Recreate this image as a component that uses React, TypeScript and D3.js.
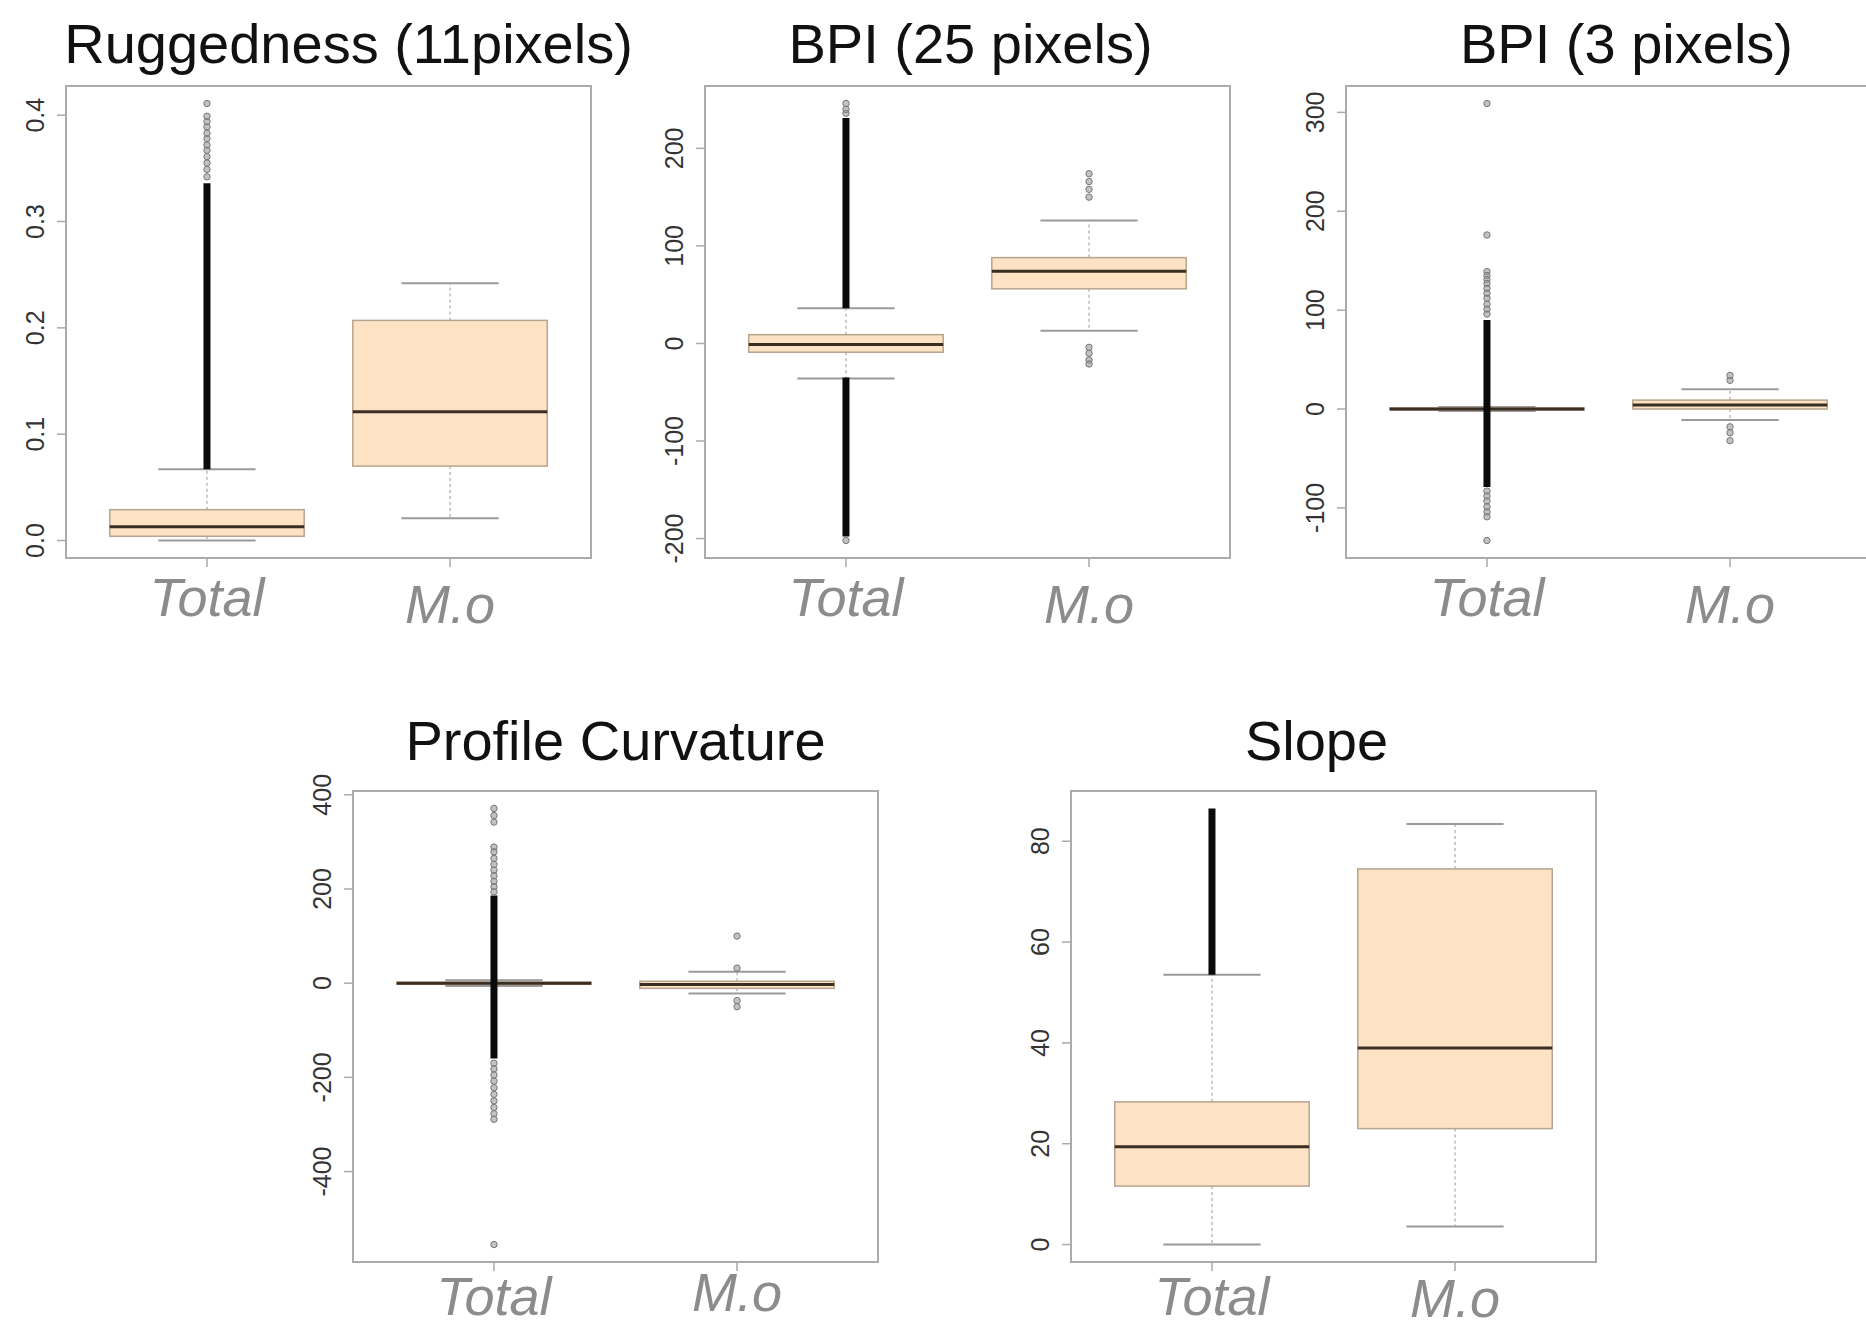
import React from 'react';
import * as d3 from 'd3';

// groups on every panel
const groups = ['Total', 'M.o'];

// stats per group: [lower whisker, Q1, median, Q3, upper whisker]
// dense: ranges where the outliers overlap into a solid column; points: single outliers

// Ruggedness (11pixels)
const ruggedStats = [[0, 0.004, 0.013, 0.029, 0.067], [0.021, 0.07, 0.121, 0.207, 0.242]];
const ruggedDense = [[[0.067, 0.336]], []];
const ruggedPoints = [[0.342, 0.349, 0.355, 0.361, 0.367, 0.372, 0.378, 0.383, 0.389, 0.394, 0.399, 0.411], []];
const ruggedTicks = [0, 0.1, 0.2, 0.3, 0.4];

// BPI (25 pixels)
const bpi25Stats = [[-36, -9, -1, 9, 36], [13, 56, 74, 88, 126]];
const bpi25Dense = [[[36, 231], [-198, -35]], []];
const bpi25Points = [[236, 240, 246, -202], [150, 158, 166, 174, -4, -10, -17, -21]];
const bpi25Ticks = [-200, -100, 0, 100, 200];

// BPI (3 pixels)
const bpi3Stats = [[-2, -1, 0, 1, 2], [-11, 0, 4, 9, 20]];
const bpi3Dense = [[[-79, 90]], []];
const bpi3Points = [
  [309, 176, 139, 135, 131, 127, 122, 117, 112, 106, 101, 96, -83, -88, -93, -99, -104, -109, -133],
  [29, 34, -18, -24, -32],
];
const bpi3Ticks = [-100, 0, 100, 200, 300];

// Profile Curvature
const profStats = [[-6, -2, 0, 2, 6], [-22, -11, -3, 4, 24]];
const profDense = [[[-160, 186]], []];
const profPoints = [
  [371, 356, 342, 289, 279, 265, 252, 240, 228, 216, 205, 194, -170, -182, -195, -208, -222, -236, -250, -264, -277, -289, -555],
  [100, 32, -37, -50],
];
const profTicks = [-400, -200, 0, 200, 400];

// Slope
const slopeStats = [[0, 11.6, 19.4, 28.3, 53.5], [3.6, 23, 39, 74.5, 83.4]];
const slopeDense = [[[53.5, 86.5]], []];
const slopePoints = [[], []];
const slopeTicks = [0, 20, 40, 60, 80];

const W = 1866;
const H = 1333;
const PW = 525;

const fmt1 = d3.format('.1f');
const fmtInt = (v: number) => String(v);

const panels = [
  { title: 'Ruggedness (11pixels)', left: 66, top: 86, height: 472, titleDy: -23, titleDx: 20, labelDy: [58, 65], stats: ruggedStats, dense: ruggedDense, points: ruggedPoints, ticks: ruggedTicks, fmt: fmt1 },
  { title: 'BPI (25 pixels)', left: 705, top: 86, height: 472, titleDy: -23, titleDx: 3, labelDy: [58, 65], stats: bpi25Stats, dense: bpi25Dense, points: bpi25Points, ticks: bpi25Ticks, fmt: fmtInt },
  { title: 'BPI (3 pixels)', left: 1346, top: 86, height: 472, titleDy: -23, titleDx: 18, labelDy: [58, 65], stats: bpi3Stats, dense: bpi3Dense, points: bpi3Points, ticks: bpi3Ticks, fmt: fmtInt },
  { title: 'Profile Curvature', left: 353, top: 791, height: 471, titleDy: -31, titleDx: 0, labelDy: [53, 49], stats: profStats, dense: profDense, points: profPoints, ticks: profTicks, fmt: fmtInt },
  { title: 'Slope', left: 1071, top: 791, height: 471, titleDy: -31, titleDx: -17, labelDy: [53, 55], stats: slopeStats, dense: slopeDense, points: slopePoints, ticks: slopeTicks, fmt: fmtInt },
];

const FONT = 'Liberation Sans, Arial, Helvetica, sans-serif';
const BOX_FILL = '#fde2c4';
const BOX_LINE = '#b7a48e';
const FRAME = '#ababab';

function BoxPanel({ p }: { p: (typeof panels)[number] }) {
  const { left, top, height } = p;
  const bottom = top + height;
  const right = left + PW;

  // R style: data range padded by 4% on each side
  const all = [...p.stats.flat(), ...p.dense.flat(2), ...p.points.flat()] as number[];
  const [lo, hi] = d3.extent(all) as [number, number];
  const pad = (hi - lo) * 0.04;
  const y = d3.scaleLinear().domain([lo - pad, hi + pad]).range([bottom, top]);
  const x = d3.scalePoint<string>().domain(groups).range([left, right]).padding(0.58);
  const half = x.step() * 0.4;
  const staple = half * 0.5;

  return (
    <g>
      <text
        x={(left + right) / 2 + p.titleDx}
        y={top + p.titleDy}
        textAnchor="middle"
        fontFamily={FONT}
        fontSize={56}
        fill="#111"
      >
        {p.title}
      </text>

      {/* y ticks */}
      {p.ticks.map((t) => (
        <g key={t}>
          <line x1={left - 9} x2={left} y1={y(t)} y2={y(t)} stroke={FRAME} strokeWidth={1.5} />
          <text
            transform={`translate(${left - 22},${y(t)}) rotate(-90)`}
            textAnchor="middle"
            fontFamily={FONT}
            fontSize={25}
            fill="#333"
          >
            {p.fmt(t)}
          </text>
        </g>
      ))}

      {groups.map((g, i) => {
        const cx = x(g)!;
        const [wLo, q1, med, q3, wHi] = p.stats[i];
        return (
          <g key={g}>
            {/* whiskers */}
            <line x1={cx} x2={cx} y1={y(q3)} y2={y(wHi)} stroke="#aaa" strokeWidth={1.2} strokeDasharray="3 3" />
            <line x1={cx} x2={cx} y1={y(q1)} y2={y(wLo)} stroke="#aaa" strokeWidth={1.2} strokeDasharray="3 3" />
            <line x1={cx - staple} x2={cx + staple} y1={y(wHi)} y2={y(wHi)} stroke="#9a9a9a" strokeWidth={2} />
            <line x1={cx - staple} x2={cx + staple} y1={y(wLo)} y2={y(wLo)} stroke="#9a9a9a" strokeWidth={2} />
            {/* box */}
            <rect
              x={cx - half}
              y={y(q3)}
              width={half * 2}
              height={Math.max(y(q1) - y(q3), 1)}
              fill={BOX_FILL}
              stroke={BOX_LINE}
              strokeWidth={1.5}
            />
            <line x1={cx - half} x2={cx + half} y1={y(med)} y2={y(med)} stroke="#3a2e22" strokeWidth={3} />
            {/* dense outlier columns */}
            {p.dense[i].map(([a, b], k) => (
              <line key={k} x1={cx} x2={cx} y1={y(a)} y2={y(b)} stroke="#0a0a0a" strokeWidth={7} />
            ))}
            {/* single outliers */}
            {p.points[i].map((v, k) => (
              <circle key={k} cx={cx} cy={y(v)} r={3.2} fill="#9a9a9a" fillOpacity={0.6} stroke="#777" strokeWidth={1} />
            ))}
            {/* x tick + label */}
            <line x1={cx} x2={cx} y1={bottom} y2={bottom + 9} stroke={FRAME} strokeWidth={1.5} />
            <text
              x={cx}
              y={bottom + p.labelDy[i]}
              textAnchor="middle"
              fontFamily={FONT}
              fontStyle="italic"
              fontSize={54}
              fill="#8c8c8c"
            >
              {g}
            </text>
          </g>
        );
      })}

      {/* frame */}
      <rect x={left} y={top} width={PW} height={height} fill="none" stroke={FRAME} strokeWidth={2} />
    </g>
  );
}

export default function App() {
  return (
    <svg
      width={W}
      height={H}
      viewBox={`0 0 ${W} ${H}`}
      style={{ position: 'absolute', left: 0, top: 0, background: '#fff' }}
    >
      <rect width={W} height={H} fill="#fff" />
      {panels.map((p) => (
        <BoxPanel key={p.title} p={p} />
      ))}
    </svg>
  );
}
